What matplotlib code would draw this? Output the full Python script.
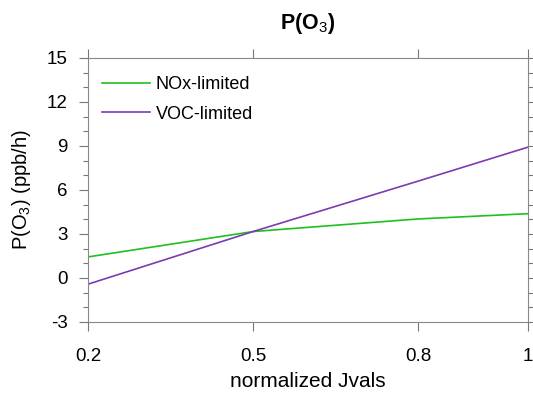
import matplotlib.pyplot as plt
import numpy as np

plt.rcParams['font.family'] = ['Liberation Sans', 'DejaVu Sans']
plt.rcParams['mathtext.fontset'] = 'custom'
plt.rcParams['mathtext.rm'] = 'Liberation Sans'
plt.rcParams['mathtext.bf'] = 'Liberation Sans:bold'
plt.rcParams['axes.unicode_minus'] = False

# data
jvals = [0.2, 0.5, 0.8, 1.0]
nox_limited = [1.43, 3.16, 4.02, 4.38]
voc_limited = [-0.43, 3.16, 6.6, 8.92]

xticks = [0.2, 0.5, 0.8, 1.0]
xtick_labels = ["0.2", "0.5", "0.8", "1"]
yticks = [-3, 0, 3, 6, 9, 12, 15]

fig = plt.figure(figsize=(5.33, 3.94), dpi=100)
ax = fig.add_axes([0.165, 0.183, 0.826, 0.670])

ax.plot(jvals, nox_limited, color="#1fbf1f", linewidth=1.2, label="NOx-limited")
ax.plot(jvals, voc_limited, color="#7b3cb0", linewidth=1.2, label="VOC-limited")

# settings
ax.set_xlim(0.2, 1.0)
ax.set_ylim(-3, 15)
ax.set_xticks(xticks)
ax.set_xticklabels(xtick_labels)
ax.set_yticks(yticks)
ax.set_yticks(np.arange(-3, 16, 1), minor=True)

ax.tick_params(which="both", direction="out", top=True, right=True,
               color="#777777", width=0.8, labelsize=13.5)
ax.tick_params(which="major", length=6.5)
ax.tick_params(axis="y", which="major", pad=8)
ax.tick_params(axis="x", which="major", pad=12)
ax.tick_params(which="minor", length=3.6)
ax.tick_params(axis="x", which="minor", top=False, bottom=False)
for s in ax.spines.values():
  s.set_color("#888888")
  s.set_linewidth(0.8)

ax.set_title(r"P(O$_3$)", fontsize=15.5, fontweight="bold", pad=21)
ax.set_ylabel(r"P(O$_3$) (ppb/h)", fontsize=14.5)
ax.yaxis.set_label_coords(-0.125, 0.5)
ax.set_xlabel("normalized Jvals", fontsize=15)
ax.xaxis.set_label_coords(0.5, -0.19)

ax.legend(loc="upper left", frameon=False, fontsize=13,
          handlelength=2.67, handletextpad=0.3, labelspacing=0.68,
          borderpad=0, borderaxespad=0, bbox_to_anchor=(0.032, 0.93))

fig.savefig("out.png", dpi=100)
